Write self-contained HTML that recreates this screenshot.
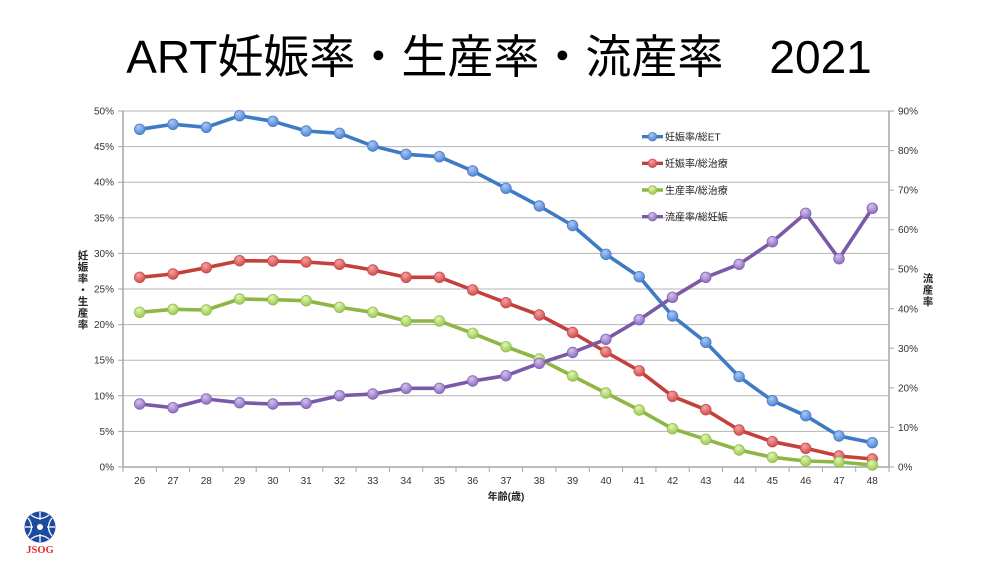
<!DOCTYPE html>
<html><head><meta charset="utf-8"><style>
html,body{margin:0;padding:0;background:#fff;}
svg{display:block;}
text{font-family:"Liberation Sans","Noto Sans CJK JP",sans-serif;}
</style></head><body>
<svg width="1000" height="562" viewBox="0 0 1000 562" xmlns="http://www.w3.org/2000/svg">
<defs>
<radialGradient id="gb" cx="40%" cy="30%" r="70%"><stop offset="0" stop-color="#a9c8f5"/><stop offset="1" stop-color="#4f85d6"/></radialGradient>
<radialGradient id="gr" cx="40%" cy="30%" r="70%"><stop offset="0" stop-color="#f5a3a3"/><stop offset="1" stop-color="#d24c4c"/></radialGradient>
<radialGradient id="gg" cx="40%" cy="30%" r="70%"><stop offset="0" stop-color="#e2f5b5"/><stop offset="1" stop-color="#9cc94f"/></radialGradient>
<radialGradient id="gp" cx="40%" cy="30%" r="70%"><stop offset="0" stop-color="#d3c2ee"/><stop offset="1" stop-color="#8d6cc0"/></radialGradient>
</defs>

<!-- Title -->
<text x="499" y="73" font-size="46" text-anchor="middle" fill="#000">ART妊娠率・生産率・流産率　2021</text>

<!-- gridlines -->
<g stroke="#b5b5b5" stroke-width="1">
<line x1="123" y1="111" x2="889" y2="111"/>
<line x1="123" y1="146.6" x2="889" y2="146.6"/>
<line x1="123" y1="182.2" x2="889" y2="182.2"/>
<line x1="123" y1="217.8" x2="889" y2="217.8"/>
<line x1="123" y1="253.4" x2="889" y2="253.4"/>
<line x1="123" y1="289" x2="889" y2="289"/>
<line x1="123" y1="324.6" x2="889" y2="324.6"/>
<line x1="123" y1="360.2" x2="889" y2="360.2"/>
<line x1="123" y1="395.8" x2="889" y2="395.8"/>
<line x1="123" y1="431.4" x2="889" y2="431.4"/>
</g>
<!-- axes -->
<g stroke="#a6a6a6" stroke-width="1.5">
<line x1="123" y1="111" x2="123" y2="467"/>
<line x1="889" y1="111" x2="889" y2="467"/>
<line x1="123" y1="467" x2="889" y2="467"/>
</g>
<g stroke="#a6a6a6" stroke-width="1">
<path d="M118 111H123M118 146.6H123M118 182.2H123M118 217.8H123M118 253.4H123M118 289H123M118 324.6H123M118 360.2H123M118 395.8H123M118 431.4H123M118 467H123"/>
<path d="M889 111H894M889 150.6H894M889 190.1H894M889 229.7H894M889 269.2H894M889 308.8H894M889 348.3H894M889 387.9H894M889 427.4H894M889 467H894"/>
<path d="M123 467V472M156.3 467V472M189.6 467V472M222.9 467V472M256.2 467V472M289.5 467V472M322.8 467V472M356.1 467V472M389.4 467V472M422.7 467V472M456 467V472M489.3 467V472M522.6 467V472M555.9 467V472M589.3 467V472M622.6 467V472M655.9 467V472M689.2 467V472M722.5 467V472M755.8 467V472M789.1 467V472M822.4 467V472M855.7 467V472M889 467V472"/>
</g>

<!-- left labels -->
<g font-size="10" fill="#333" text-anchor="end">
<text x="114" y="114.5">50%</text>
<text x="114" y="150.1">45%</text>
<text x="114" y="185.7">40%</text>
<text x="114" y="221.3">35%</text>
<text x="114" y="256.9">30%</text>
<text x="114" y="292.5">25%</text>
<text x="114" y="328.1">20%</text>
<text x="114" y="363.7">15%</text>
<text x="114" y="399.3">10%</text>
<text x="114" y="434.9">5%</text>
<text x="114" y="470.5">0%</text>
</g>
<!-- right labels -->
<g font-size="10" fill="#333">
<text x="898" y="114.5">90%</text>
<text x="898" y="154.1">80%</text>
<text x="898" y="193.6">70%</text>
<text x="898" y="233.2">60%</text>
<text x="898" y="272.7">50%</text>
<text x="898" y="312.3">40%</text>
<text x="898" y="351.8">30%</text>
<text x="898" y="391.4">20%</text>
<text x="898" y="430.9">10%</text>
<text x="898" y="470.5">0%</text>
</g>
<!-- x labels -->
<g font-size="10" fill="#333" text-anchor="middle">
<text x="139.7" y="484">26</text><text x="173" y="484">27</text><text x="206.3" y="484">28</text><text x="239.6" y="484">29</text><text x="272.9" y="484">30</text><text x="306.2" y="484">31</text><text x="339.5" y="484">32</text><text x="372.8" y="484">33</text><text x="406.1" y="484">34</text><text x="439.4" y="484">35</text><text x="472.7" y="484">36</text><text x="506" y="484">37</text><text x="539.3" y="484">38</text><text x="572.6" y="484">39</text><text x="605.9" y="484">40</text><text x="639.2" y="484">41</text><text x="672.5" y="484">42</text><text x="705.8" y="484">43</text><text x="739.1" y="484">44</text><text x="772.4" y="484">45</text><text x="805.7" y="484">46</text><text x="839" y="484">47</text><text x="872.3" y="484">48</text>
</g>
<text x="506" y="500" font-size="10" font-weight="bold" fill="#222" text-anchor="middle">年齢(歳)</text>

<!-- axis titles -->
<g font-size="10.5" font-weight="bold" fill="#222" text-anchor="middle">
<text x="83" y="259">妊</text><text x="83" y="270.5">娠</text><text x="83" y="282">率</text><text x="83" y="293.5">・</text><text x="83" y="305">生</text><text x="83" y="316.5">産</text><text x="83" y="328">率</text>
<text x="928" y="282">流</text><text x="928" y="293.5">産</text><text x="928" y="305">率</text>
</g>

<!-- series -->
<g fill="none" stroke-width="3.6" stroke-linejoin="round" stroke-linecap="round">
<polyline stroke="#3f7bc4" points="139.7,129.3 173,124.3 206.3,127.3 239.6,115.7 272.9,121.3 306.2,131 339.5,133.3 372.8,146 406.1,154.3 439.4,156.7 472.7,171 506,188.3 539.3,206 572.6,225.5 605.9,254.3 639.2,276.7 672.5,316 705.8,342.3 739.1,376.7 772.4,400.7 805.7,415.7 839,436 872.3,442.7"/>
<polyline stroke="#c4403d" points="139.7,277.3 173,274 206.3,267.7 239.6,260.7 272.9,261 306.2,262 339.5,264.3 372.8,270 406.1,277.3 439.4,277.3 472.7,290 506,302.7 539.3,315 572.6,332.5 605.9,352 639.2,370.8 672.5,396.3 705.8,409.7 739.1,430 772.4,441.7 805.7,448.3 839,456 872.3,459"/>
<polyline stroke="#8db644" points="139.7,312.3 173,309.3 206.3,310 239.6,299 272.9,299.7 306.2,300.7 339.5,307.3 372.8,312.3 406.1,321 439.4,321 472.7,333.3 506,346.7 539.3,359 572.6,376 605.9,393 639.2,410 672.5,428.7 705.8,439.3 739.1,450 772.4,457.3 805.7,461 839,462 872.3,465"/>
<polyline stroke="#7a5aa6" points="139.7,404 173,407.7 206.3,399 239.6,402.7 272.9,404 306.2,403.3 339.5,395.7 372.8,394 406.1,388.3 439.4,388.3 472.7,381 506,375.7 539.3,363.3 572.6,352.5 605.9,339.3 639.2,319.7 672.5,297.3 705.8,277.3 739.1,264.3 772.4,241.7 805.7,213.3 839,258.7 872.3,208.3"/>
</g>
<g stroke-width="0.8">
<g fill="url(#gb)" stroke="#4a7ec6">
<circle cx="139.7" cy="129.3" r="5.3"/><circle cx="173" cy="124.3" r="5.3"/><circle cx="206.3" cy="127.3" r="5.3"/><circle cx="239.6" cy="115.7" r="5.3"/><circle cx="272.9" cy="121.3" r="5.3"/><circle cx="306.2" cy="131" r="5.3"/><circle cx="339.5" cy="133.3" r="5.3"/><circle cx="372.8" cy="146" r="5.3"/><circle cx="406.1" cy="154.3" r="5.3"/><circle cx="439.4" cy="156.7" r="5.3"/><circle cx="472.7" cy="171" r="5.3"/><circle cx="506" cy="188.3" r="5.3"/><circle cx="539.3" cy="206" r="5.3"/><circle cx="572.6" cy="225.5" r="5.3"/><circle cx="605.9" cy="254.3" r="5.3"/><circle cx="639.2" cy="276.7" r="5.3"/><circle cx="672.5" cy="316" r="5.3"/><circle cx="705.8" cy="342.3" r="5.3"/><circle cx="739.1" cy="376.7" r="5.3"/><circle cx="772.4" cy="400.7" r="5.3"/><circle cx="805.7" cy="415.7" r="5.3"/><circle cx="839" cy="436" r="5.3"/><circle cx="872.3" cy="442.7" r="5.3"/>
</g>
<g fill="url(#gr)" stroke="#c84c4a">
<circle cx="139.7" cy="277.3" r="5.3"/><circle cx="173" cy="274" r="5.3"/><circle cx="206.3" cy="267.7" r="5.3"/><circle cx="239.6" cy="260.7" r="5.3"/><circle cx="272.9" cy="261" r="5.3"/><circle cx="306.2" cy="262" r="5.3"/><circle cx="339.5" cy="264.3" r="5.3"/><circle cx="372.8" cy="270" r="5.3"/><circle cx="406.1" cy="277.3" r="5.3"/><circle cx="439.4" cy="277.3" r="5.3"/><circle cx="472.7" cy="290" r="5.3"/><circle cx="506" cy="302.7" r="5.3"/><circle cx="539.3" cy="315" r="5.3"/><circle cx="572.6" cy="332.5" r="5.3"/><circle cx="605.9" cy="352" r="5.3"/><circle cx="639.2" cy="370.8" r="5.3"/><circle cx="672.5" cy="396.3" r="5.3"/><circle cx="705.8" cy="409.7" r="5.3"/><circle cx="739.1" cy="430" r="5.3"/><circle cx="772.4" cy="441.7" r="5.3"/><circle cx="805.7" cy="448.3" r="5.3"/><circle cx="839" cy="456" r="5.3"/><circle cx="872.3" cy="459" r="5.3"/>
</g>
<g fill="url(#gg)" stroke="#93bf4c">
<circle cx="139.7" cy="312.3" r="5.3"/><circle cx="173" cy="309.3" r="5.3"/><circle cx="206.3" cy="310" r="5.3"/><circle cx="239.6" cy="299" r="5.3"/><circle cx="272.9" cy="299.7" r="5.3"/><circle cx="306.2" cy="300.7" r="5.3"/><circle cx="339.5" cy="307.3" r="5.3"/><circle cx="372.8" cy="312.3" r="5.3"/><circle cx="406.1" cy="321" r="5.3"/><circle cx="439.4" cy="321" r="5.3"/><circle cx="472.7" cy="333.3" r="5.3"/><circle cx="506" cy="346.7" r="5.3"/><circle cx="539.3" cy="359" r="5.3"/><circle cx="572.6" cy="376" r="5.3"/><circle cx="605.9" cy="393" r="5.3"/><circle cx="639.2" cy="410" r="5.3"/><circle cx="672.5" cy="428.7" r="5.3"/><circle cx="705.8" cy="439.3" r="5.3"/><circle cx="739.1" cy="450" r="5.3"/><circle cx="772.4" cy="457.3" r="5.3"/><circle cx="805.7" cy="461" r="5.3"/><circle cx="839" cy="462" r="5.3"/><circle cx="872.3" cy="465" r="5.3"/>
</g>
<g fill="url(#gp)" stroke="#8566b0">
<circle cx="139.7" cy="404" r="5.3"/><circle cx="173" cy="407.7" r="5.3"/><circle cx="206.3" cy="399" r="5.3"/><circle cx="239.6" cy="402.7" r="5.3"/><circle cx="272.9" cy="404" r="5.3"/><circle cx="306.2" cy="403.3" r="5.3"/><circle cx="339.5" cy="395.7" r="5.3"/><circle cx="372.8" cy="394" r="5.3"/><circle cx="406.1" cy="388.3" r="5.3"/><circle cx="439.4" cy="388.3" r="5.3"/><circle cx="472.7" cy="381" r="5.3"/><circle cx="506" cy="375.7" r="5.3"/><circle cx="539.3" cy="363.3" r="5.3"/><circle cx="572.6" cy="352.5" r="5.3"/><circle cx="605.9" cy="339.3" r="5.3"/><circle cx="639.2" cy="319.7" r="5.3"/><circle cx="672.5" cy="297.3" r="5.3"/><circle cx="705.8" cy="277.3" r="5.3"/><circle cx="739.1" cy="264.3" r="5.3"/><circle cx="772.4" cy="241.7" r="5.3"/><circle cx="805.7" cy="213.3" r="5.3"/><circle cx="839" cy="258.7" r="5.3"/><circle cx="872.3" cy="208.3" r="5.3"/>
</g>
</g>

<!-- legend -->
<g stroke-width="3.4">
<line x1="642" y1="136.7" x2="663" y2="136.7" stroke="#3f7bc4"/>
<line x1="642" y1="163.3" x2="663" y2="163.3" stroke="#c4403d"/>
<line x1="642" y1="190" x2="663" y2="190" stroke="#8db644"/>
<line x1="642" y1="216.7" x2="663" y2="216.7" stroke="#7a5aa6"/>
</g>
<g stroke-width="0.8">
<circle cx="652.5" cy="136.7" r="4.3" fill="url(#gb)" stroke="#4a7ec6"/>
<circle cx="652.5" cy="163.3" r="4.3" fill="url(#gr)" stroke="#c84c4a"/>
<circle cx="652.5" cy="190" r="4.3" fill="url(#gg)" stroke="#93bf4c"/>
<circle cx="652.5" cy="216.7" r="4.3" fill="url(#gp)" stroke="#8566b0"/>
</g>
<g font-size="10" fill="#222">
<text x="665" y="140.5">妊娠率/総ET</text>
<text x="665" y="167">妊娠率/総治療</text>
<text x="665" y="193.8">生産率/総治療</text>
<text x="665" y="220.5">流産率/総妊娠</text>
</g>

<!-- JSOG logo -->
<g>
<circle cx="40" cy="527" r="15.5" fill="#1d4c9f"/>
<g stroke="#fff" stroke-width="1.3" fill="none">
<path d="M31 515 Q40 522 49 515"/>
<path d="M31 539 Q40 532 49 539"/>
<path d="M28 518 Q35 527 28 536"/>
<path d="M52 518 Q45 527 52 536"/>
<path d="M40 512 V520"/>
<path d="M40 534 V542"/>
<path d="M25 527 H33"/>
<path d="M47 527 H55"/>
</g>
<circle cx="40" cy="527" r="3" fill="#fff"/>
<text x="40" y="553" font-family="Liberation Serif, serif" font-size="10.5" font-weight="bold" fill="#e32a2a" text-anchor="middle" style="font-family:'Liberation Serif',serif">JSOG</text>
</g>
</svg>
</body></html>
